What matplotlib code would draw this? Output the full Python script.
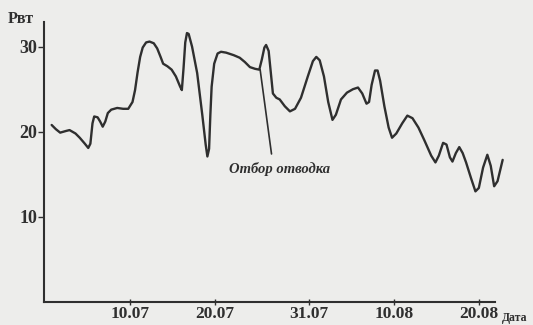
import matplotlib.pyplot as plt
import numpy as np

# day index: July days as is, August days as 31 + day
days = [0.8, 1.3, 1.8, 2.5, 2.9, 3.6, 4.1, 4.7, 5.1, 5.35, 5.6, 5.8, 6.2, 6.5, 6.8,
        7.1, 7.4, 7.8, 8.5, 9.2, 9.8, 10.3, 10.6, 10.9, 11.2, 11.5, 11.9, 12.3, 12.8,
        13.2, 13.6, 13.9, 14.4, 14.9, 15.4, 15.9, 16.1, 16.3, 16.5, 16.7, 16.9, 17.3,
        17.9, 18.5, 18.9, 19.1, 19.3, 19.45, 19.6, 19.9, 20.3, 20.7, 21.3, 22.2, 22.9,
        23.5, 24.1, 24.7, 25.2, 25.5, 25.8, 26.0, 26.3, 26.55, 26.8, 27.2, 27.6, 28.2,
        28.8, 29.4, 30.1, 30.9, 31.5, 31.9, 32.3, 32.8, 33.3, 33.8, 34.2, 34.8, 35.5,
        36.2, 36.8, 37.3, 37.8, 38.1, 38.4, 38.8, 39.1, 39.4, 39.9, 40.4, 40.8, 41.3,
        42.0, 42.6, 43.2, 43.9, 44.6, 45.4, 45.9, 46.3, 46.8, 47.2, 47.6, 47.9, 48.3,
        48.7, 49.1, 49.5, 50.1, 50.6, 51.0, 51.5, 52.0, 52.4, 52.8, 53.2, 53.8]
rvt = [20.8, 20.3, 19.9, 20.1, 20.2, 19.8, 19.3, 18.6, 18.1, 18.6, 21.0, 21.8, 21.7, 21.2, 20.6,
       21.2, 22.2, 22.6, 22.8, 22.7, 22.7, 23.5, 24.9, 27.0, 28.8, 29.9, 30.5, 30.6, 30.4,
       29.8, 28.8, 28.0, 27.7, 27.3, 26.5, 25.3, 24.9, 27.5, 30.5, 31.6, 31.5, 30.0,
       26.9, 22.0, 18.5, 17.1, 18.0, 22.0, 25.3, 28.0, 29.2, 29.4, 29.3, 29.0, 28.7,
       28.2, 27.6, 27.4, 27.3, 28.5, 29.9, 30.2, 29.5, 27.0, 24.5, 24.0, 23.8, 23.0,
       22.4, 22.7, 24.0, 26.5, 28.3, 28.8, 28.4, 26.5, 23.5, 21.4, 22.0, 23.8, 24.6,
       25.0, 25.2, 24.5, 23.3, 23.5, 25.5, 27.2, 27.2, 26.0, 23.0, 20.5, 19.3, 19.8,
       21.0, 21.9, 21.6, 20.5, 19.0, 17.2, 16.4, 17.2, 18.7, 18.5, 17.0, 16.5, 17.5,
       18.2, 17.5, 16.4, 14.5, 13.0, 13.4, 15.8, 17.3, 16.0, 13.6, 14.2, 16.7]

xticks = [10, 20, 31, 41, 51]
xticklabels = ["10.07", "20.07", "31.07", "10.08", "20.08"]
yticks = [10, 20, 30]

bg = "#ededeb"
ink = "#2f2f2f"
serif = "Liberation Serif"

fig = plt.figure(figsize=(5.33, 3.25), dpi=100, facecolor=bg)
ax = fig.add_axes([44/533, 1 - 302/325, (495 - 44)/533, (302 - 22)/325], facecolor=bg)

ax.plot(days, rvt, color=ink, linewidth=1.7, solid_joinstyle="round",
        solid_capstyle="round", clip_on=False)

ax.set_xlim(-0.1, 52.9)
ax.set_ylim(0, 32.9)

# axes: only left and bottom
ax.spines["top"].set_visible(False)
ax.spines["right"].set_visible(False)
for s in ("left", "bottom"):
    ax.spines[s].set_color(ink)
    ax.spines[s].set_linewidth(1.5)

ax.set_xticks(xticks)
ax.set_xticklabels(xticklabels, fontfamily=serif, fontweight="bold", fontsize=12.5, color=ink)
ax.set_yticks(yticks)
ax.set_yticklabels([str(v) for v in yticks], fontfamily=serif, fontweight="bold",
                   fontsize=13, color=ink)
ax.tick_params(axis="x", direction="inout", length=4, width=1, colors=ink, pad=1)
ax.tick_params(axis="y", direction="out", length=4, width=1, colors=ink, pad=1)

# axis names
fig.text(8/533, 1 - 19/325, "Рвт", fontfamily=serif, fontweight="bold", fontsize=11.5,
         color=ink, va="center", ha="left")
fig.text(502/533, 1 - 318/325, "Дата", fontfamily=serif, fontweight="bold", fontsize=8.5,
         color=ink, va="center", ha="left")

# leader to the moment of taking the cutting
ax.annotate("Отбор отводка", xy=(25.3, 27.3), xytext=(27.6, 15.6),
            fontfamily=serif, fontweight="bold", fontstyle="italic", fontsize=10.5,
            color=ink, ha="center", va="center",
            arrowprops=dict(arrowstyle="-", color=ink, linewidth=1.2,
                            relpos=(0.43, 1.0), shrinkA=4, shrinkB=0))

plt.savefig("out.png", dpi=100, facecolor=bg)
